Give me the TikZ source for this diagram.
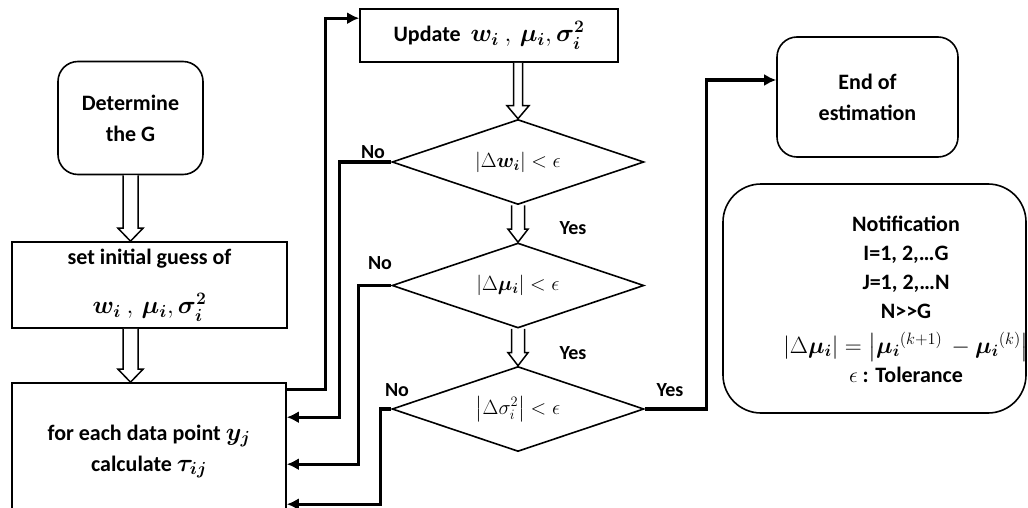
\RequirePackage{fix-cm}
\documentclass[tikz,border=0pt]{standalone}
\usepackage{amsmath,amssymb}
\usepackage[no-math]{fontspec}
\setmainfont{Carlito}
\usetikzlibrary{calc,shapes.geometric,arrows.meta}
\tikzstyle{box} = [draw, line width=1.6pt, align=center, inner sep=0pt, font=\bfseries\fontsize{22}{31}\selectfont]
\tikzstyle{roundbox} = [box, rounded corners=20pt]
\tikzstyle{decision} = [diamond, draw, line width=1.6pt, aspect=3, inner sep=0pt, minimum width=252pt, minimum height=85pt, font=\fontsize{20.5}{24}\selectfont]
\tikzstyle{connector} = [line width=3.2pt, -{Latex[length=12pt,width=12pt]}]
\tikzstyle{hollow} = [line width=1.5pt, fill=white]
\tikzstyle{answer} = [inner sep=0pt, font=\bfseries\fontsize{20}{24}\selectfont]
% hollow block arrow: start, tip, half shaft, half head
\newcommand{\hollowarrow}[4]{\draw[hollow] ($(#1)+(-#3,0)$) -- ($(#2)+(-#3,-13)$) -- ($(#2)+(-#4,-13)$) -- (#2) -- ($(#2)+(#4,-13)$) -- ($(#2)+(#3,-13)$) -- ($(#1)+(#3,0)$);}
% larger bold math
\newcommand{\bmath}[1]{{\fontsize{25}{31}\selectfont$#1$}}

\begin{document}
\begin{tikzpicture}[x=1pt, y=-1pt]
\clip (0,0) rectangle (1028,508);

% left column
\node[roundbox, minimum width=145pt, minimum height=113pt] (det) at (130.5,118) {Determine\\the G};
\node[box, minimum width=275pt, minimum height=86pt] (init) at (149.5,285) {set initial guess of\\[18pt]\bmath{\boldsymbol{w_i}\ ,\, \boldsymbol{\mu_i}, \boldsymbol{\sigma_i^2}}};
\node[box, minimum width=274pt, minimum height=137pt] (estep) at (149,451.5) {for each data point \bmath{\boldsymbol{y_j}}\\calculate \bmath{\boldsymbol{\tau_{ij}}}};

% middle column
\node[box, minimum width=258pt, minimum height=53pt] (upd) at (489,35.5) {Update \ \bmath{\boldsymbol{w_i}\ ,\, \boldsymbol{\mu_i}, \boldsymbol{\sigma_i^2}}};
\node[decision] (d1) at (518,162) {$|\Delta \boldsymbol{w_i}| < \epsilon$};
\node[decision, below of=d1, node distance=123.5pt] (d2) {$|\Delta \boldsymbol{\mu_i}| < \epsilon$};
\node[decision, below of=d2, node distance=123.5pt] (d3) {$\bigl|\Delta \sigma_i^2\bigr| < \epsilon$};

% right column
\node[roundbox, minimum width=181pt, minimum height=120pt] (stop) at (867.5,97) {End of\\estimation};
\node[roundbox, rounded corners=38pt, minimum width=303pt, minimum height=229pt] (note) at (874.5,298.5) {};
\node[align=center, inner sep=0pt, font=\bfseries\fontsize{22}{29}\selectfont] (notetext) at (906,299) {Notification\\I=1, 2,…G\\J=1, 2,…N\\N>\kern0pt>G\\[6pt]{\fontsize{23.5}{29}\selectfont$|\Delta \boldsymbol{\mu_i}| = \bigl|\boldsymbol{\mu_i}^{(k+1)}\, - \boldsymbol{\mu_i}^{(k)}\bigr|$}\\$\epsilon$\ : Tolerance};

% labels
\node[answer] (no1) at (373,152) {No};
\node[answer] (no2) at (380,263) {No};
\node[answer] (no3) at (397,390) {No};
\node[answer] (yes1) at (573,228) {Yes};
\node[answer] (yes2) at (573,353) {Yes};
\node[answer] (yes3) at (670,390) {Yes};

% hollow arrows
\hollowarrow{det.south}{det.south |- init.north}{7.5}{12.5}
\hollowarrow{init.south -| det.south}{det.south |- estep.north}{7.5}{12.5}
\hollowarrow{upd.south -| d1.north}{d1.north}{4.5}{11}
\hollowarrow{d1.south}{d2.north}{6.5}{10}
\hollowarrow{d2.south}{d3.north}{6.5}{10}

% connectors
\draw[connector] ([yshift=-7pt]estep.north east) -- ++(39,0) |- ([yshift=-10pt]upd.north west);
\draw[connector] (d1.west) -- ++(-52,0) |- ([yshift=-35pt]estep.north east);
\draw[connector] (d2.west) -- ++(-33,0) |- ([yshift=-82pt]estep.north east);
\draw[connector] (d3.west) -- ++(-11,0) |- ([yshift=-122pt]estep.north east);
\draw[connector] (d3.east) -- ++(62,0) |- ([yshift=17pt]stop.west);
\end{tikzpicture}
\end{document}
